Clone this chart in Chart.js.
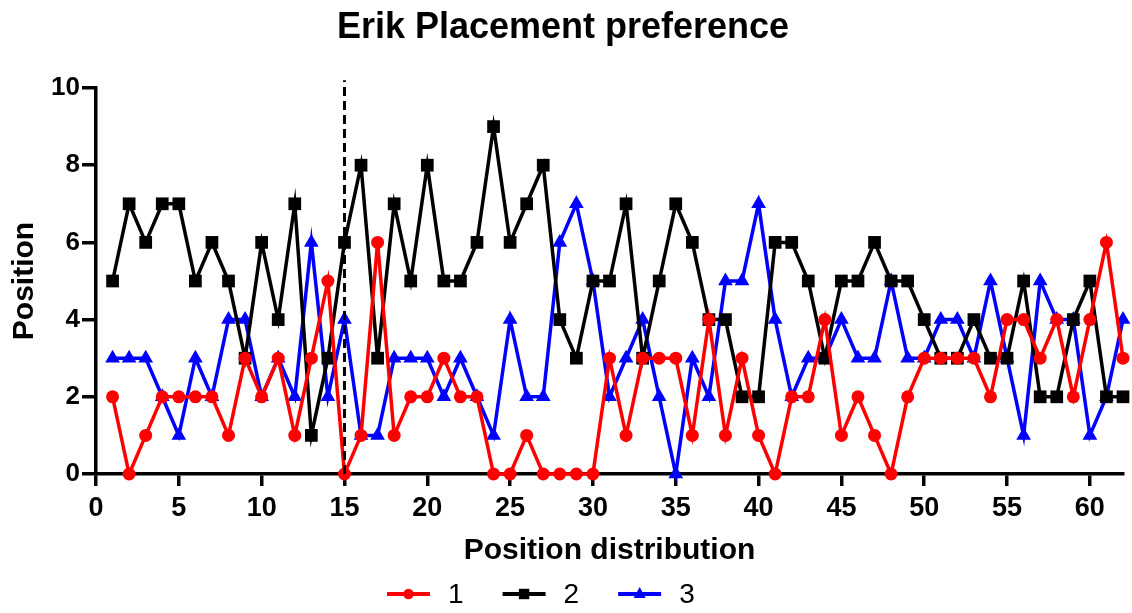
<!DOCTYPE html>
<html>
<head>
<meta charset="utf-8">
<script src="https://cdn.jsdelivr.net/npm/chart.js@4"></script>
<style>
html,body{margin:0;padding:0;background:#fff;}
#wrap{width:1132px;height:613px;}
</style>
</head>
<body>
<div id="wrap"><canvas id="c" width="1132" height="613"></canvas></div>
<script>
const positions = [1,2,3,4,5,6,7,8,9,10,11,12,13,14,15,16,17,18,19,20,21,22,23,24,25,26,27,28,29,30,31,32,33,34,35,36,37,38,39,40,41,42,43,44,45,46,47,48,49,50,51,52,53,54,55,56,57,58,59,60,61,62];
const series1 = [2,0,1,2,2,2,2,1,3,2,3,1,3,5,0,1,6,1,2,2,3,2,2,0,0,1,0,0,0,0,3,1,3,3,3,1,4,1,3,1,0,2,2,4,1,2,1,0,2,3,3,3,3,2,4,4,3,4,2,4,6,3];
const series2 = [5,7,6,7,7,5,6,5,3,6,4,7,1,3,6,8,3,7,5,8,5,5,6,9,6,7,8,4,3,5,5,7,3,5,7,6,4,4,2,2,6,6,5,3,5,5,6,5,5,4,3,3,4,3,3,5,2,2,4,5,2,2];
const series3 = [3,3,3,2,1,3,2,4,4,2,3,2,6,2,4,1,1,3,3,3,2,3,2,1,4,2,2,6,7,5,2,3,4,2,0,3,2,5,5,7,4,2,3,3,4,3,3,5,3,3,4,4,3,5,3,1,5,4,4,1,2,4];
const seriesNames = ['1','2','3'];
const xTicks = [0,5,10,15,20,25,30,35,40,45,50,55,60];
const yTicks = [0,2,4,6,8,10];
const markerLine = 15;

function toXY(vals){ return vals.map((v,i)=>({x:positions[i], y:v})); }

const colors = ['#ff0000','#000000','#0000ff'];
const styles = ['circle','rect','triangle'];
const radii = [6.5, 9, 8.5];
const data = [series1, series2, series3];

function drawMarker(g, style, cx, cy){
  g.beginPath();
  if(style==='circle'){ g.arc(cx,cy,5.2,0,Math.PI*2); }
  else if(style==='rect'){ g.rect(cx-5.2,cy-5.2,10.4,10.4); }
  else { g.moveTo(cx,cy-7); g.lineTo(cx+6,cy+4); g.lineTo(cx-6,cy+4); g.closePath(); }
  g.fill();
}

const vline = {
  id:'vline',
  afterDatasetsDraw(chart){
    const {ctx, scales:{x,y}} = chart;
    const px = x.getPixelForValue(markerLine);
    ctx.save();
    ctx.strokeStyle = '#000'; ctx.lineWidth = 3; ctx.setLineDash([9,5]);
    ctx.beginPath(); ctx.moveTo(px, y.getPixelForValue(0)); ctx.lineTo(px, y.getPixelForValue(10.2)); ctx.stroke();
    ctx.restore();
  }
};

const customLegend = {
  id:'customLegend',
  afterDraw(chart){
    const ctx = chart.ctx;
    const cy = 594;
    const symW = 43, gap = 18, spacing = 39;
    let x = 387;
    ctx.save();
    ctx.font = '28px "Liberation Sans", Arial';
    ctx.textBaseline = 'middle';
    ctx.textAlign = 'left';
    chart.data.datasets.forEach((ds,i)=>{
      ctx.strokeStyle = colors[i]; ctx.fillStyle = colors[i]; ctx.lineWidth = 4;
      ctx.beginPath(); ctx.moveTo(x, cy); ctx.lineTo(x+symW, cy); ctx.stroke();
      drawMarker(ctx, styles[i], x+symW/2, cy);
      ctx.fillStyle = '#000';
      ctx.fillText(ds.label, x+symW+gap, cy+1);
      x += symW + gap + ctx.measureText(ds.label).width + spacing;
    });
    ctx.restore();
  }
};

new Chart(document.getElementById('c'), {
  type:'line',
  data:{
    datasets: data.map((d,i)=>({
      label: seriesNames[i],
      data: toXY(d),
      borderColor: colors[i],
      backgroundColor: colors[i],
      borderWidth: 3.5,
      pointStyle: styles[i],
      pointRadius: radii[i],
      pointHoverRadius: radii[i],
      pointBorderWidth: 0,
      tension: 0,
      clip: false
    }))
  },
  options:{
    responsive:false,
    animation:false,
    events:[],
    layout:{padding:{left:0,right:6,top:0,bottom:43}},
    scales:{
      x:{
        type:'linear', min:0, max:62,
        afterBuildTicks(s){ s.ticks = xTicks.map(v=>({value:v})); },
        afterFit(s){ s.height = 96; },
        border:{display:true,color:'#000',width:3.5},
        grid:{display:true,drawOnChartArea:false,drawTicks:true,tickLength:12,lineWidth:3.5,color:'#000'},
        ticks:{color:'#000',font:{family:'Liberation Sans, Arial',size:27,weight:'bold'},padding:6,maxRotation:0,autoSkip:false},
        title:{display:true,text:'Position distribution',color:'#000',font:{family:'Liberation Sans, Arial',size:30,weight:'bold'},padding:{top:0,bottom:1}}
      },
      y:{
        type:'linear', min:0, max:10,
        afterBuildTicks(s){ s.ticks = yTicks.map(v=>({value:v})); },
        afterFit(s){ s.width = 96; },
        border:{display:true,color:'#000',width:3.5},
        grid:{display:true,drawOnChartArea:false,drawTicks:true,tickLength:14,lineWidth:3.5,color:'#000'},
        ticks:{color:'#000',font:{family:'Liberation Sans, Arial',size:26,weight:'bold'},padding:2},
        title:{display:true,text:'Position',color:'#000',font:{family:'Liberation Sans, Arial',size:30,weight:'bold'},padding:{top:7,bottom:0}}
      }
    },
    plugins:{
      title:{display:true,text:'Erik Placement preference',color:'#000',font:{family:'Liberation Sans, Arial',size:36,weight:'bold'},padding:{top:6,bottom:38.8}},
      legend:{display:false},
      tooltip:{enabled:false}
    }
  },
  plugins:[vline, customLegend]
});
</script>
</body>
</html>
